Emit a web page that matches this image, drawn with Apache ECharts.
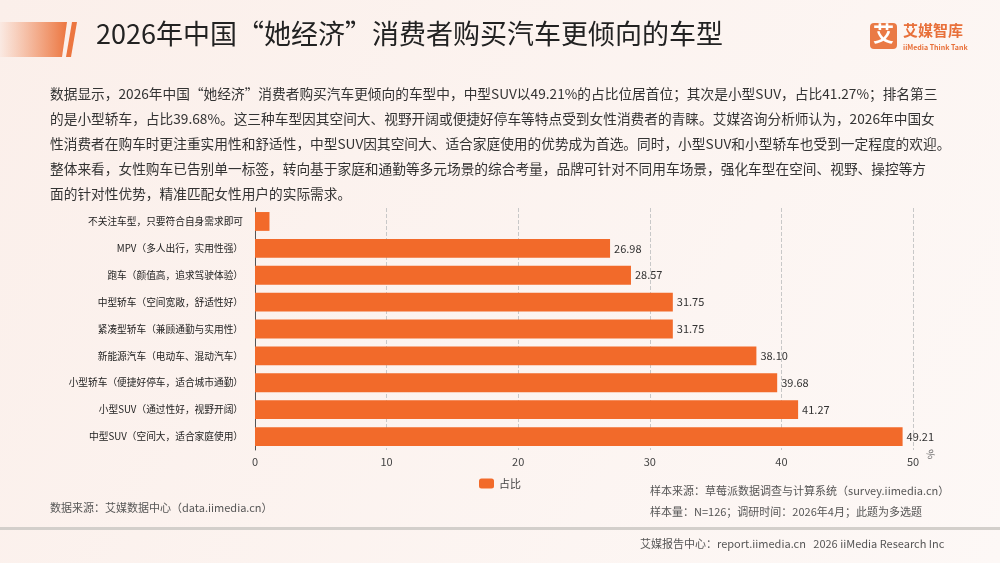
<!DOCTYPE html>
<html>
<head>
<meta charset="utf-8">
<title>2026年中国“她经济”消费者购买汽车更倾向的车型</title>
<script src="https://cdn.jsdelivr.net/npm/echarts@6/dist/echarts.min.js"></script>
<style>
    html, body { margin: 0; padding: 0; }
    #main { width: 1000px; height: 563px; }
</style>
</head>
<body>
<div id="main"></div>
<script>
// 车型（从下到上）
let carTypes = [
    '中型SUV（空间大，适合家庭使用）',
    '小型SUV（通过性好，视野开阔）',
    '小型轿车（便捷好停车，适合城市通勤）',
    '新能源汽车（电动车、混动汽车）',
    '紧凑型轿车（兼顾通勤与实用性）',
    '中型轿车（空间宽敞，舒适性好）',
    '跑车（颜值高，追求驾驶体验）',
    'MPV（多人出行，实用性强）',
    '不关注车型，只要符合自身需求即可'
];
// 占比 %
let shares = [49.21, 41.27, 39.68, 38.10, 31.75, 31.75, 28.57, 26.98, 1.1];
// 不显示数值的项
let hideLabel = ['不关注车型，只要符合自身需求即可'];
let xTicks = [0, 10, 20, 30, 40, 50];

let title = '2026年中国“她经济”消费者购买汽车更倾向的车型';
let paragraph = [
    '数据显示，2026年中国“她经济”消费者购买汽车更倾向的车型中，中型SUV以49.21%的占比位居首位；其次是小型SUV，占比41.27%；排名第三',
    '的是小型轿车，占比39.68%。这三种车型因其空间大、视野开阔或便捷好停车等特点受到女性消费者的青睐。艾媒咨询分析师认为，2026年中国女',
    '性消费者在购车时更注重实用性和舒适性，中型SUV因其空间大、适合家庭使用的优势成为首选。同时，小型SUV和小型轿车也受到一定程度的欢迎。',
    '整体来看，女性购车已告别单一标签，转向基于家庭和通勤等多元场景的综合考量，品牌可针对不同用车场景，强化车型在空间、视野、操控等方',
    '面的针对性优势，精准匹配女性用户的实际需求。'
];

let font = '"Noto Sans CJK SC", "Noto Sans", sans-serif';
let orange = '#f26a2a';

let myChart = echarts.init(document.getElementById('main'));

let graphics = [
    // 背景
    {type: 'rect', z: -10, shape: {x: 0, y: 0, width: 1000, height: 563},
        style: {fill: new echarts.graphic.LinearGradient(0, 0, 1, 1, [
            {offset: 0, color: '#fbefea'}, {offset: 1, color: '#fdf8f6'}])}},
    // 标题左侧装饰
    {type: 'polygon', shape: {points: [[0, 22], [67, 22], [62, 57], [0, 57]]},
        style: {fill: new echarts.graphic.LinearGradient(0, 0, 1, 0, [
            {offset: 0, color: 'rgba(238,130,80,0.05)'}, {offset: 1, color: '#ec7640'}])}},
    {type: 'polygon', shape: {points: [[72, 22], [77, 22], [71, 57], [66, 57]]},
        style: {fill: '#ec7640'}},
    {type: 'text', left: 96, top: 20,
        style: {text: title, font: '27px ' + font, fill: '#222'}},
    // logo
    {type: 'rect', shape: {x: 870, y: 23, width: 27, height: 26, r: 4}, style: {fill: '#ea7a45'}},
    {type: 'text', left: 873, top: 23, style: {text: '艾', font: 'bold 21px ' + font, fill: '#fff'}},
    {type: 'text', left: 903, top: 23, style: {text: '艾媒智库', font: 'bold 15px ' + font, fill: '#e8703a'}},
    {type: 'text', left: 903, top: 44, style: {text: 'iiMedia Think Tank', font: 'bold 7px ' + font, fill: '#e8703a'}},
    // 底部
    {type: 'text', left: 50, top: 502,
        style: {text: '数据来源：艾媒数据中心（data.iimedia.cn）', font: '11px ' + font, fill: '#555'}},
    {type: 'text', left: 650, top: 485,
        style: {text: '样本来源：草莓派数据调查与计算系统（survey.iimedia.cn）', font: '11px ' + font, fill: '#555'}},
    {type: 'text', left: 650, top: 506,
        style: {text: '样本量：N=126；调研时间：2026年4月；此题为多选题', font: '11px ' + font, fill: '#555'}},
    {type: 'rect', shape: {x: 0, y: 527, width: 1000, height: 3}, style: {fill: '#d3cfcb'}},
    {type: 'text', left: 640, top: 538,
        style: {text: '艾媒报告中心：report.iimedia.cn   2026 iiMedia Research Inc', font: '11px ' + font, fill: '#555'}}
];

paragraph.forEach(function (line, i) {
    graphics.push({type: 'text', left: 50, top: 87 + i * 25,
        style: {text: line, font: '13.7px ' + font, fill: '#333'}});
});

let option = {
    backgroundColor: '#fdf6f3',
    textStyle: {fontFamily: font},
    graphic: graphics,
    grid: {left: 255, right: 87, top: 208, bottom: 113, containLabel: false},
    legend: {
        data: ['占比'],
        left: 'center',
        top: 473,
        itemWidth: 15,
        itemHeight: 10,
        icon: 'roundRect',
        textStyle: {fontSize: 11, color: '#444'}
    },
    xAxis: {
        type: 'value',
        min: xTicks[0],
        max: xTicks[xTicks.length - 1],
        interval: 10,
        name: '%',
        nameLocation: 'end',
        nameGap: 16,
        nameRotate: -70,
        nameTextStyle: {fontSize: 10, color: '#666', padding: [10, 0, 0, 0]},
        axisLine: {show: false},
        axisTick: {show: false},
        axisLabel: {fontSize: 11, color: '#444', margin: 6},
        splitLine: {show: true, lineStyle: {type: 'dashed', color: '#c8c8c8'}}
    },
    yAxis: {
        type: 'category',
        data: carTypes,
        axisLine: {show: true, lineStyle: {color: '#555'}},
        axisTick: {show: false},
        axisLabel: {fontSize: 9.7, color: '#222', margin: 12}
    },
    series: [{
        name: '占比',
        type: 'bar',
        data: shares.map(function (v, i) {
            return {value: v, label: {show: hideLabel.indexOf(carTypes[i]) < 0}};
        }),
        barCategoryGap: '30%',
        itemStyle: {color: orange},
        label: {
            show: true,
            position: 'right',
            distance: 4,
            fontSize: 11,
            color: '#333',
            formatter: function (p) { return p.value.toFixed(2); }
        }
    }]
};

myChart.setOption(option);
</script>
</body>
</html>
